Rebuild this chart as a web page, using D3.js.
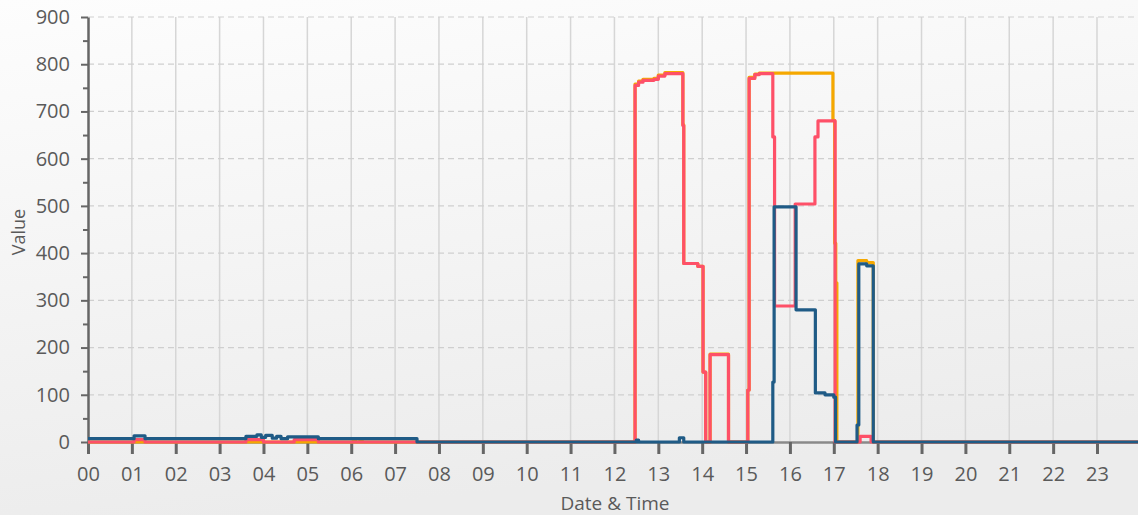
<!DOCTYPE html>
<html>
<head>
<meta charset="utf-8">
<script src="https://cdn.jsdelivr.net/npm/d3@7"></script>
<style>
  html, body { margin: 0; padding: 0; background: #f4f4f4; }
  svg { display: block; }
  text { font-family: "Open Sans", "DejaVu Sans", sans-serif; }
</style>
</head>
<body>
<svg id="chart" width="1138" height="515"></svg>
<script>
// Hour labels along the bottom axis and value ticks on the left
const hourLabels = ["00","01","02","03","04","05","06","07","08","09","10","11",
                    "12","13","14","15","16","17","18","19","20","21","22","23"];
const valueTicks = [0, 100, 200, 300, 400, 500, 600, 700, 800, 900];

// Each series is a step line: value holds from its time until the next time (hours)
const orangeTimes  = [0, 6.05, 6.1, 6.2, 6.25, 12.47, 12.55, 12.65, 12.9, 13.0, 13.15, 13.56, 13.58, 13.9,
                      14.02, 14.08, 14.18, 14.6, 15.04, 15.07, 15.2, 15.3, 15.62, 16.98, 17.02, 17.045,
                      17.07, 17.55, 17.75, 17.9, 24];
const orangeValues = [0, 4, 0, 4, 0, 758, 764, 768, 770, 777, 782, 672, 378, 372,
                      148, 0, 186, 0, 110, 772, 779, 781, 781, 681, 421, 337,
                      0, 384, 380, 0, 0];

const redTimes  = [0, 1.05, 1.3, 3.6, 4.0, 4.7, 5.25, 12.47, 12.55, 12.65, 12.9, 13.0, 13.15, 13.56, 13.58,
                   13.9, 14.02, 14.08, 14.18, 14.6, 15.04, 15.07, 15.2, 15.3, 15.61, 15.65, 16.12, 16.57,
                   16.64, 17.03, 17.6, 17.85, 24];
const redValues = [0, 5, 0, 5, 0, 5, 0, 755, 762, 766, 768, 775, 780, 670, 378,
                   372, 148, 0, 185, 0, 110, 770, 778, 780, 646, 288, 504, 646,
                   680, 0, 12, 0, 0];

const blueTimes  = [0, 1.05, 1.3, 3.6, 3.85, 3.95, 4.05, 4.2, 4.3, 4.4, 4.55, 5.25, 7.5,
                    12.5, 12.55, 13.48, 13.58, 15.61, 15.64, 16.14, 16.58, 16.8, 17.0, 17.04,
                    17.53, 17.57, 17.75, 17.9, 24];
const blueValues = [7, 13, 7, 12, 15, 10, 14, 8, 12, 7, 11, 7, 0,
                    4, 0, 9, 0, 127, 498, 280, 104, 100, 95, 0,
                    36, 377, 373, 0, 0];

const seriesList = [
  { name: "orange", color: "#f5a800", times: orangeTimes, values: orangeValues },
  { name: "red",    color: "#fe5068", times: redTimes,    values: redValues },
  { name: "blue",   color: "#1f5b86", times: blueTimes,   values: blueValues }
];

const width = 1138, height = 515;
const margin = { left: 88, top: 17, bottom: 73 };
const hourWidth = 43.87;

const svg = d3.select("#chart");

// soft grey page background
const defs = svg.append("defs");
const grad = defs.append("linearGradient")
  .attr("id", "bg").attr("x1", 0).attr("y1", 0).attr("x2", 0.25).attr("y2", 1);
grad.append("stop").attr("offset", "0%").attr("stop-color", "#fdfdfd");
grad.append("stop").attr("offset", "100%").attr("stop-color", "#ececec");
svg.append("rect").attr("width", width).attr("height", height).attr("fill", "url(#bg)");

const x = d3.scaleLinear().domain([0, 24]).range([margin.left, margin.left + 24 * hourWidth]);
const y = d3.scaleLinear().domain([0, 900]).range([height - margin.bottom, margin.top]);

// vertical hour grid lines
svg.append("g")
  .selectAll("line")
  .data(d3.range(1, 24))
  .join("line")
  .attr("x1", d => x(d)).attr("x2", d => x(d))
  .attr("y1", y(900)).attr("y2", y(0))
  .attr("stroke", "#d6d6d6").attr("stroke-width", 1.5);

// dashed horizontal value grid lines
svg.append("g")
  .selectAll("line")
  .data(valueTicks.filter(v => v > 0))
  .join("line")
  .attr("x1", x(0)).attr("x2", width)
  .attr("y1", d => y(d)).attr("y2", d => y(d))
  .attr("stroke", "#cfcfcf").attr("stroke-width", 1.2)
  .attr("stroke-dasharray", "6,4");

// bottom axis
const xAxis = d3.axisBottom(x)
  .tickValues(d3.range(0, 24))
  .tickFormat(d => hourLabels[d])
  .tickSize(12).tickPadding(13).tickSizeOuter(0);
const gx = svg.append("g").attr("transform", `translate(0,${y(0)})`).call(xAxis);
gx.select(".domain").attr("stroke", "#8a8a8a").attr("stroke-width", 2.5);
gx.selectAll(".tick line").attr("stroke", "#666").attr("stroke-width", 3);
gx.selectAll(".tick text").attr("fill", "#5a5a5a").style("font-size", "20px");

// left axis with minor ticks at the half-hundreds
const yMinor = d3.axisLeft(y).tickValues(d3.range(50, 900, 100)).tickSize(5).tickFormat("");
const gyMinor = svg.append("g").attr("transform", `translate(${x(0)},0)`).call(yMinor);
gyMinor.select(".domain").remove();
gyMinor.selectAll(".tick line").attr("stroke", "#666").attr("stroke-width", 2);

const yAxis = d3.axisLeft(y).tickValues(valueTicks).tickSize(7).tickPadding(11).tickSizeOuter(0);
const gy = svg.append("g").attr("transform", `translate(${x(0)},0)`).call(yAxis);
gy.select(".domain").attr("stroke", "#666").attr("stroke-width", 2.5);
gy.selectAll(".tick line").attr("stroke", "#666").attr("stroke-width", 2);
gy.selectAll(".tick text").attr("fill", "#5a5a5a").style("font-size", "20px");

// series lines
const line = d3.line()
  .x(d => x(d[0]))
  .y(d => y(d[1]))
  .curve(d3.curveStepAfter);

svg.append("g")
  .selectAll("path")
  .data(seriesList)
  .join("path")
  .attr("d", s => line(s.times.map((t, i) => [t, s.values[i]])))
  .attr("fill", "none")
  .attr("stroke", s => s.color)
  .attr("stroke-width", 3.2)
  .attr("stroke-linejoin", "round");

// axis titles
svg.append("text")
  .attr("x", 615).attr("y", 510)
  .attr("text-anchor", "middle")
  .attr("fill", "#5a5a5a")
  .style("font-size", "19px")
  .text("Date & Time");

svg.append("text")
  .attr("transform", "translate(25,232) rotate(-90)")
  .attr("text-anchor", "middle")
  .attr("fill", "#5a5a5a")
  .style("font-size", "18px")
  .text("Value");
</script>
</body>
</html>
